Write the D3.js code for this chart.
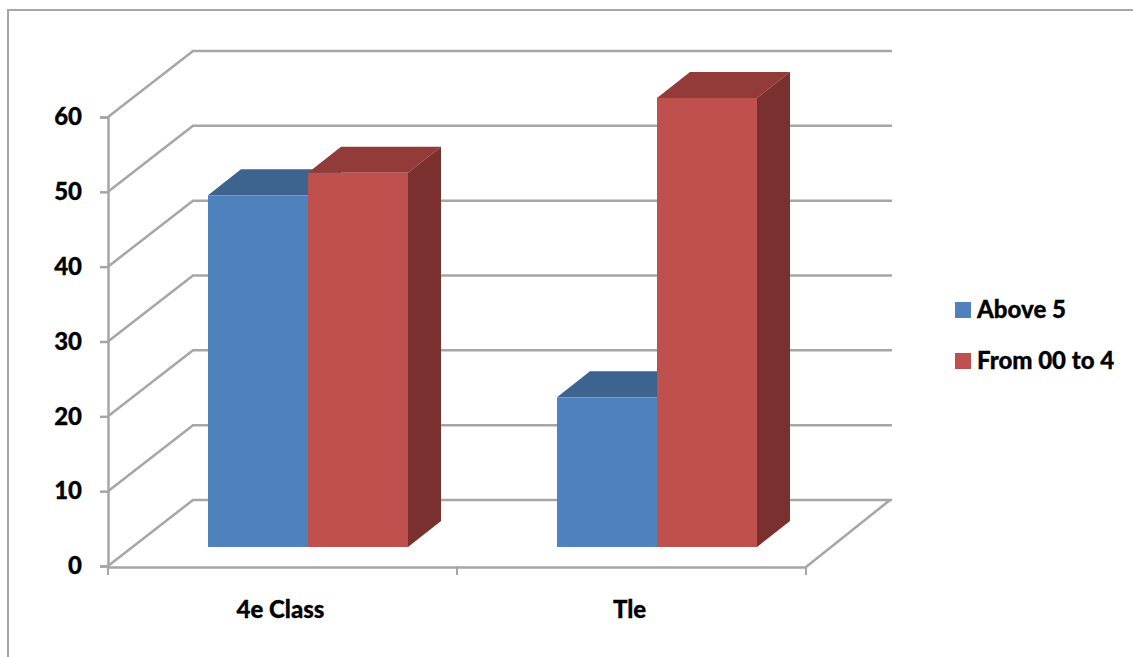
<!DOCTYPE html>
<html>
<head>
<meta charset="utf-8">
<script src="https://cdn.jsdelivr.net/npm/d3@7"></script>
<style>
  html, body { margin: 0; padding: 0; background: #fff; overflow: hidden; }
  svg { display: block; }
  text { font-family: Lato, sans-serif; font-weight: 900; fill: #000; font-size: 24px; stroke: #000; stroke-width: 0.3px; }
</style>
</head>
<body>
<svg id="chart" width="1133" height="657"></svg>
<script>
const categories = ["4e Class", "Tle"];
const seriesNames = ["Above 5", "From 00 to 4"];
const above5 = [47, 20];
const from00to4 = [50, 60];
const yTicks = [0, 10, 20, 30, 40, 50, 60];

const gridColor = "#a6a6a6";
const frontColors = ["#4f81bd", "#c0504d"];
const topColors = ["#3d638f", "#933b39"];
const sideColors = ["#305176", "#7a302e"];

const svg = d3.select("#chart");

// outer chart border, open on the right and bottom
svg.append("path")
  .attr("d", "M8,657V10H1133")
  .attr("fill", "none")
  .attr("stroke", gridColor)
  .attr("stroke-width", 2);

// scales
const yScale = d3.scaleLinear().domain([0, 60]).range([566, 117]);
const xScale = d3.scaleBand().domain(categories).range([108, 806]);
const barScale = d3.scaleBand().domain(seriesNames).range([100, 300]);

// depth of the box and of the bars
const wallDx = 85, wallDy = -66;
const barDx = 33, barDy = -26;
const floorDy = -19;
const wallRight = 892;

// back wall lines and the diagonals on the left wall
const walls = svg.append("g")
  .attr("fill", "none")
  .attr("stroke", gridColor)
  .attr("stroke-width", 2.5);

walls.selectAll("path")
  .data(yTicks)
  .enter()
  .append("path")
  .attr("d", d => {
    const y = yScale(d);
    return `M${xScale.range()[0]},${y}l${wallDx},${wallDy}H${wallRight}`;
  });

// floor edge on the right
walls.append("path")
  .attr("d", `M${xScale.range()[1]},${yScale(0) + 1}L${wallRight - 2},${yScale(0) + wallDy}`);

// axes
const yAxis = svg.append("g")
  .attr("transform", `translate(${xScale.range()[0]},0)`)
  .call(d3.axisLeft(yScale).tickValues(yTicks).tickSize(8).tickPadding(18).tickFormat(d3.format("d")));

const xAxis = svg.append("g")
  .attr("transform", `translate(0,${yScale(0) + 1})`)
  .call(d3.axisBottom(xScale).tickSize(0).tickPadding(34));

xAxis.selectAll(".tick text").attr("dx", -2);

[yAxis, xAxis].forEach(axis => {
  axis.selectAll("path, line").attr("stroke", gridColor).attr("stroke-width", 2.5);
  axis.selectAll("text").style("font-size", "24px").attr("fill", "#000");
});

// tick marks sit on the category edges
const edges = categories.map(c => xScale(c)).concat(xScale.range()[1]);
svg.append("g")
  .selectAll("line")
  .data(edges)
  .enter()
  .append("line")
  .attr("x1", d => d)
  .attr("x2", d => d)
  .attr("y1", yScale(0))
  .attr("y2", yScale(0) + 9)
  .attr("stroke", gridColor)
  .attr("stroke-width", 2);

// bars: one box per value, drawn series by series so red overlaps blue
const seriesValues = [above5, from00to4];

seriesNames.forEach((name, s) => {
  const group = svg.append("g");

  categories.forEach((cat, i) => {
    const x0 = xScale(cat) + barScale(name);
    const x1 = x0 + barScale.bandwidth();
    const yTop = yScale(seriesValues[s][i]) + floorDy;
    const yBase = yScale(0) + floorDy;

    group.append("path")
      .attr("d", `M${x0},${yTop}l${barDx},${barDy}H${x1 + barDx}L${x1},${yTop}Z`)
      .attr("fill", topColors[s]);

    group.append("path")
      .attr("d", `M${x1},${yTop}l${barDx},${barDy}V${yBase + barDy}L${x1},${yBase}Z`)
      .attr("fill", sideColors[s]);

    group.append("rect")
      .attr("x", x0)
      .attr("y", yTop)
      .attr("width", x1 - x0)
      .attr("height", yBase - yTop)
      .attr("fill", frontColors[s]);
  });
});

// legend
const legendY = d3.scalePoint().domain(seriesNames).range([310, 361]);

const legend = svg.append("g")
  .selectAll("g")
  .data(seriesNames)
  .enter()
  .append("g")
  .attr("transform", d => `translate(955,${legendY(d)})`);

legend.append("rect")
  .attr("y", -8)
  .attr("width", 16)
  .attr("height", 16)
  .attr("fill", (d, i) => frontColors[i]);

legend.append("text")
  .attr("x", 22)
  .attr("dy", "0.35em")
  .text(d => d);
</script>
</body>
</html>
